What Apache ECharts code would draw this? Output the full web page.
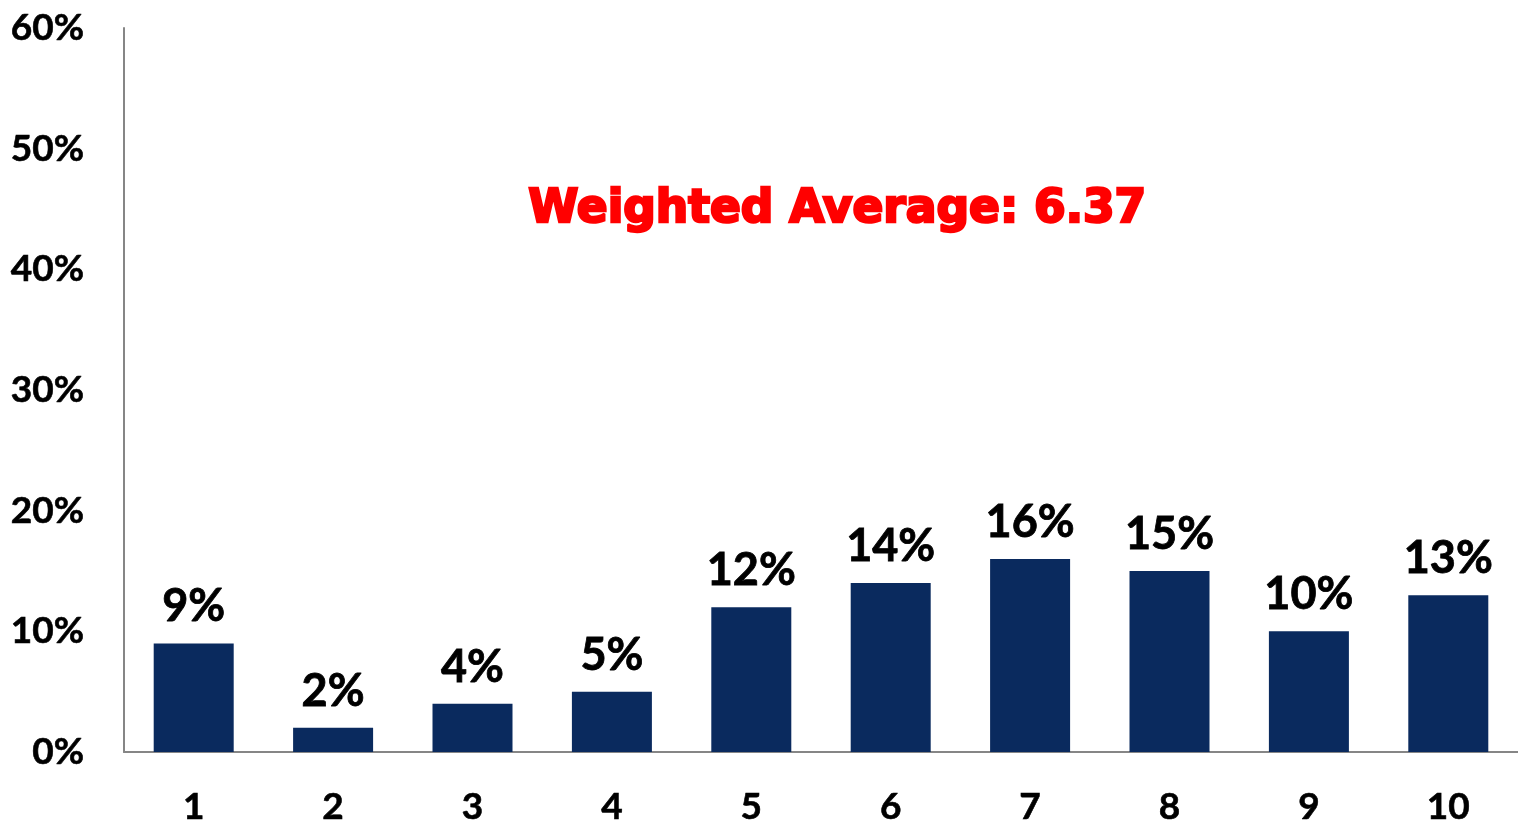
<!DOCTYPE html>
<html>
<head>
<meta charset="utf-8">
<style>
  html, body { margin: 0; padding: 0; background: #ffffff; }
  #chart { width: 1518px; height: 829px; }
</style>
<script src="https://cdn.jsdelivr.net/npm/echarts@6/dist/echarts.min.js"></script>
</head>
<body>
<div id="chart"></div>
<script>
// Rating scale and share of responses at each score
const categories = ['1', '2', '3', '4', '5', '6', '7', '8', '9', '10'];
const shares = [9, 2, 4, 5, 12, 14, 16, 15, 10, 13];
const yTicks = [0, 10, 20, 30, 40, 50, 60];
const annotation = 'Weighted Average: 6.37';

const chart = echarts.init(document.getElementById('chart'));
const labelFont = 'Lato, "Open Sans", sans-serif';

chart.setOption({
  animation: false,
  backgroundColor: '#ffffff',
  grid: { left: 124, top: 28, width: 1398, bottom: 77, containLabel: false },
  xAxis: {
    type: 'category',
    data: categories,
    axisLine: { lineStyle: { color: '#868686', width: 2 } },
    axisTick: { show: false },
    axisLabel: {
      color: '#000', fontFamily: labelFont, fontWeight: 'bold', fontSize: 37,
      margin: 37, textBorderColor: '#000', textBorderWidth: 0.6
    }
  },
  yAxis: {
    type: 'value',
    min: yTicks[0],
    max: yTicks[yTicks.length - 1],
    interval: 10,
    splitLine: { show: false },
    axisTick: { show: false },
    axisLine: { show: true, lineStyle: { color: '#868686', width: 2 } },
    axisLabel: {
      color: '#000', fontFamily: labelFont, fontWeight: 'bold', fontSize: 37,
      margin: 40, formatter: v => v + '%',
      textBorderColor: '#000', textBorderWidth: 0.6
    }
  },
  series: [{
    type: 'bar',
    data: shares,
    barWidth: 80,
    itemStyle: { color: '#0a2a5e' },
    label: {
      show: true, position: 'top', distance: 14,
      color: '#000', fontFamily: labelFont, fontWeight: 'bold', fontSize: 45,
      textBorderColor: '#000', textBorderWidth: 0.8,
      formatter: p => p.value + '%'
    }
  }],
  graphic: [{
    type: 'text',
    left: 527, top: 186,
    style: {
      text: annotation,
      fill: '#ff0000',
      stroke: '#ff0000',
      lineWidth: 2.5,
      font: 'bold 45.5px "DejaVu Sans", "Liberation Sans", sans-serif'
    }
  }]
});
</script>
</body>
</html>
